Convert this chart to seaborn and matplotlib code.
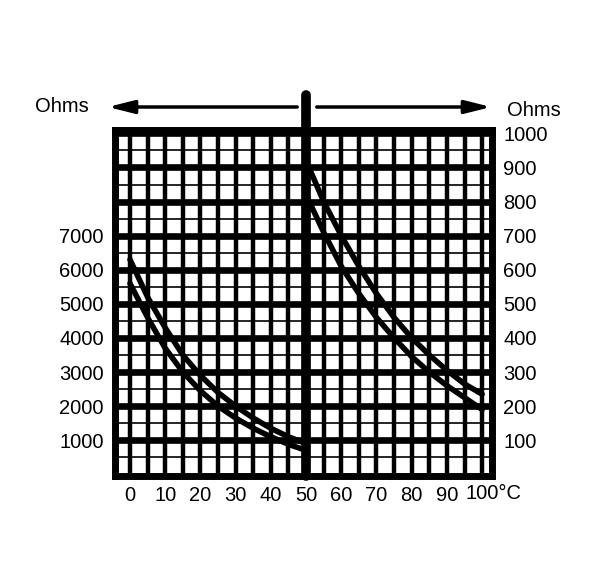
import numpy as np
import pandas as pd
import matplotlib
matplotlib.use("Agg")
import matplotlib.pyplot as plt
import matplotlib.transforms as mtransforms
import seaborn as sns

sns.set_style("white")
plt.rcParams['font.family'] = ['Liberation Sans', 'DejaVu Sans']
plt.rcParams['text.color'] = 'black'
plt.rcParams['xtick.color'] = 'black'
plt.rcParams['ytick.color'] = 'black'

# cold range, left scale (ohms), two edges of the band
temp_cold = [0, 5, 10, 15, 20, 25, 30, 35, 40, 45, 50]
ohm_cold_hi = [6300, 5200, 4300, 3500, 2900, 2400, 2000, 1650, 1350, 1100, 900]
ohm_cold_lo = [5600, 4600, 3700, 3000, 2450, 2000, 1650, 1350, 1100, 880, 700]

# hot range, right scale (ohms)
temp_hot = [50, 55, 60, 65, 70, 75, 80, 85, 90, 95, 100]
ohm_hot_hi = [920, 800, 700, 610, 530, 460, 400, 350, 305, 265, 235]
ohm_hot_lo = [820, 710, 610, 530, 460, 400, 345, 300, 260, 225, 190]

x_ticks = [0, 10, 20, 30, 40, 50, 60, 70, 80, 90]
left_ticks = [1000, 2000, 3000, 4000, 5000, 6000, 7000]
right_ticks = [100, 200, 300, 400, 500, 600, 700, 800, 900, 1000]

cold = pd.DataFrame({"T": temp_cold * 2,
                     "R": ohm_cold_hi + ohm_cold_lo,
                     "edge": ["hi"] * 11 + ["lo"] * 11})
hot = pd.DataFrame({"T": temp_hot * 2,
                    "R": ohm_hot_hi + ohm_hot_lo,
                    "edge": ["hi"] * 11 + ["lo"] * 11})

fs = 14.5

fig = plt.figure(figsize=(6.01, 5.81), dpi=100)
ax = fig.add_axes([115 / 601, 1 - 476 / 581, 377 / 601, 346 / 581])
ax2 = ax.twinx()

ax.set_xlim(-4.25, 102.8)
ax.set_ylim(-50, 10100)
ax2.set_ylim(-5, 1010)

# heavy grid
for xv in range(0, 101, 5):
    ax.axvline(xv, color="black", lw=3.2, zorder=1)
for yv in range(1000, 10001, 1000):
    ax.axhline(yv, color="black", lw=4.8, zorder=1)
for yv in range(500, 10001, 1000):
    ax.axhline(yv, color="black", lw=1.2, zorder=1)
ax.axvline(50, ymin=0, ymax=1.101, color="black", lw=7, clip_on=False,
           solid_capstyle="round", zorder=5)

sns.lineplot(data=cold, x="T", y="R", units="edge", estimator=None,
             color="black", lw=4, ax=ax, zorder=4)
sns.lineplot(data=hot, x="T", y="R", units="edge", estimator=None,
             color="black", lw=4, ax=ax2, zorder=4)

ax.set_zorder(1)
ax2.set_zorder(2)
ax2.patch.set_visible(False)

for s in ax.spines.values():
    s.set_linewidth(5)
    s.set_color("black")
for s in ax2.spines.values():
    s.set_visible(False)

ax.set_xticks(x_ticks)
ax.set_xticklabels([str(v) for v in x_ticks])
ax.set_yticks(left_ticks)
ax2.set_yticks(right_ticks)
ax.tick_params(axis="x", length=0, pad=7, labelsize=fs)
ax.tick_params(axis="y", length=0, pad=8, labelsize=fs)
ax2.tick_params(axis="y", length=0, pad=8, labelsize=fs)
ax.set_xlabel("")
ax.set_ylabel("")
ax2.set_ylabel("")

trans = mtransforms.blended_transform_factory(ax.transData, ax.transAxes)
ax.text(95.3, -0.022, "100°C", transform=trans, ha="left", va="top", fontsize=fs)

# top arrows and labels
yA = 1 - 107 / 581
ax.annotate("", xy=(105 / 601, yA), xytext=(300 / 601, yA),
            xycoords="figure fraction", textcoords="figure fraction",
            arrowprops=dict(arrowstyle="-|>,head_length=1.2,head_width=0.3",
                            lw=2.5, color="black", mutation_scale=13))
ax.annotate("", xy=(494 / 601, yA), xytext=(314 / 601, yA),
            xycoords="figure fraction", textcoords="figure fraction",
            arrowprops=dict(arrowstyle="-|>,head_length=1.2,head_width=0.3",
                            lw=2.5, color="black", mutation_scale=13))
fig.text(35 / 601, yA, "Ohms", ha="left", va="center", fontsize=fs)
fig.text(507 / 601, 1 - 110 / 581, "Ohms", ha="left", va="center", fontsize=fs)

fig.savefig("out.png", dpi=100)
